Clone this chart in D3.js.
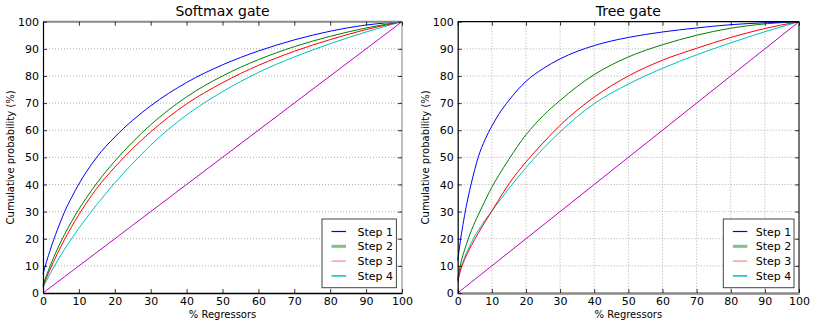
<!DOCTYPE html>
<html><head><meta charset="utf-8">
<script src="https://cdn.jsdelivr.net/npm/d3@7"></script>
<style>body{margin:0;background:#fff}svg{display:block}text{font-family:"DejaVu Sans",sans-serif;fill:#000}</style>
</head><body><svg id="c" width="830" height="323"></svg>
<script>
const xGrid = [0,1,2,3,4,5,6,8,10,12,15,20,25,30,40,50,60,70,80,90,100];
const softStep1 = [7,11.6,15.8,19.7,23.3,26.7,29.9,35.3,40.2,44.5,50.1,57.5,63.7,69,77.6,84.1,89.2,93.3,96.5,98.8,100];
const softStep2 = [3,6.6,10,13.2,16.2,19,21.6,26.4,30.9,34.9,40.5,48.6,55.7,62,72.3,80,86,90.8,94.6,97.7,100];
const softStep3 = [2.5,5.7,8.8,11.7,14.5,17.2,19.7,24.5,28.9,33,38.6,46.4,53.3,59.4,69.7,77.5,83.9,89.1,93.4,97.1,100];
const softStep4 = [2,4.6,7.1,9.5,11.8,14,16.1,20.1,23.9,27.5,32.6,40.6,47.8,54.5,65.6,74.2,81.3,87,91.9,96.2,100];
const treeStep1 = [12,21,28.5,35,40.5,45.5,50,56.5,61.5,65.8,71,78,82.7,86.3,91.2,94.2,96.2,97.7,98.9,99.6,100];
const treeStep2 = [5,11.5,15.8,19.6,23,26,28.7,34,39,43.3,49.3,58.3,65.3,71,80.5,87,91.5,95,97.6,99.2,100];
const treeStep3 = [4,9,12.3,15,17.5,19.8,22,26.2,30.2,34.3,40.2,48.3,55.3,61.8,72.2,80,85.8,90.2,94.2,97.5,100];
const treeStep4 = [5.5,9.5,13,16,18.6,21,23,26.8,30.2,33.6,38.5,46.2,53.2,59.4,69.8,77,82.8,87.8,92.2,96.3,100];
const diagonal = xGrid.slice();
const seriesNames = ["Step 1","Step 2","Step 3","Step 4"];
const ticks = [0,10,20,30,40,50,60,70,80,90,100];
const titles = ["Softmax gate","Tree gate"];

const lineColors = ["#0000ff","#008000","#ff0000","#00bfbf"];
const legendColors = ["#0000ff","#80c080","#ff8080","#00bfbf"];
const legendWidths = [1.2,3,1.2,1.5];

const svg = d3.select("#c");
const panels = [
  {title:titles[0], series:[softStep1,softStep2,softStep3,softStep4], x0:43, x1:402, vgrid:false, legX:322},
  {title:titles[1], series:[treeStep1,treeStep2,treeStep3,treeStep4], x0:457.7, x1:799, vgrid:true, legX:723.3}
];
const yTop = 21.7, yBot = 293;

panels.forEach((p,pi)=>{
  const x = d3.scaleLinear().domain([0,100]).range([p.x0,p.x1]);
  const y = d3.scaleLinear().domain([0,100]).range([yBot,yTop]);
  const g = svg.append("g");
  ticks.forEach(t=>{
    if (t>0 && t<100) {
      g.append("line").attr("x1",p.x0).attr("x2",p.x1).attr("y1",y(t)).attr("y2",y(t))
        .attr("stroke","#999").attr("stroke-width",0.8).attr("stroke-dasharray","1,2");
      if (p.vgrid) g.append("line").attr("y1",yTop).attr("y2",yBot).attr("x1",x(t)).attr("x2",x(t))
        .attr("stroke","#999").attr("stroke-width",0.8).attr("stroke-dasharray","1,2");
    }
  });
  const line = d3.line().x((d,i)=>x(xGrid[i])).y(d=>y(d)).curve(d3.curveMonotoneX);
  g.append("path").datum(diagonal).attr("d",line).attr("fill","none").attr("stroke","#bf00bf").attr("stroke-width",1);
  p.series.slice().reverse().forEach((s,ri)=>{
    const i = 3-ri;
    g.append("path").datum(s).attr("d",line).attr("fill","none").attr("stroke",lineColors[i]).attr("stroke-width",1);
  });
  const spine=(x1,y1,x2,y2,c,w)=>g.append("line").attr("x1",x1).attr("y1",y1).attr("x2",x2).attr("y2",y2).attr("stroke",c).attr("stroke-width",w);
  if (pi===0){
    spine(p.x0,yTop,p.x1,yTop,"#888",2);
    spine(p.x1,yTop,p.x1,yBot,"#aaa",1.5);
  } else {
    spine(p.x0,yTop,p.x1,yTop,"#000",1.2);
    spine(p.x1,yTop,p.x1,yBot,"#777",2);
  }
  const xAxB = d3.axisBottom(x).tickValues(ticks).tickSizeInner(-4).tickSizeOuter(0).tickPadding(4);
  const xAxT = d3.axisTop(x).tickValues(ticks).tickSizeInner(-4).tickSizeOuter(0).tickFormat("");
  const yAxL = d3.axisLeft(y).tickValues(ticks).tickSizeInner(-4).tickSizeOuter(0).tickPadding(4);
  const yAxR = d3.axisRight(y).tickValues(ticks).tickSizeInner(-4).tickSizeOuter(0).tickFormat("");
  const styleAx = (sel,col,w)=>{sel.select(".domain").attr("stroke",col).attr("stroke-width",w);
    sel.selectAll(".tick line").attr("stroke","#000").attr("stroke-width",0.8);
    sel.selectAll("text").style("font-family","DejaVu Sans").style("font-size","11px").attr("fill","#000");};
  styleAx(g.append("g").attr("transform",`translate(0,${yTop})`).call(xAxT),"none",0);
  styleAx(g.append("g").attr("transform",`translate(${p.x1},0)`).call(yAxR),"none",0);
  styleAx(g.append("g").attr("transform",`translate(0,${yBot})`).call(xAxB), pi===0?"#000":"#888", pi===0?1.5:2.5);
  styleAx(g.append("g").attr("transform",`translate(${p.x0},0)`).call(yAxL),"#000",1.2);
  const cx=(p.x0+p.x1)/2;
  g.append("text").attr("x",cx).attr("y",16).attr("text-anchor","middle").style("font-size","14px").text(p.title);
  g.append("text").attr("x",cx).attr("y",318).attr("text-anchor","middle").style("font-size","10px").text("% Regressors");
  g.append("text").attr("transform",`translate(${p.x0-29},${(yTop+yBot)/2}) rotate(-90)`).attr("text-anchor","middle").style("font-size","10px").text("Cumulative probability (%)");
  const lg = g.append("g");
  lg.append("rect").attr("x",p.legX).attr("y",219).attr("width",pi===0?74.4:70.7).attr("height",68.7)
    .attr("fill","#fff").attr("stroke","#444").attr("stroke-width",1);
  seriesNames.forEach((n,i)=>{
    const ly = 231.5 + i*14.8;
    lg.append("line").attr("x1",p.legX+9.5).attr("x2",p.legX+24).attr("y1",ly).attr("y2",ly)
      .attr("stroke",legendColors[i]).attr("stroke-width",legendWidths[i]);
    lg.append("text").attr("x",p.legX+(pi===0?35.5:32.5)).attr("y",ly+4).style("font-size","11px").text(n);
  });
});
</script></body></html>
